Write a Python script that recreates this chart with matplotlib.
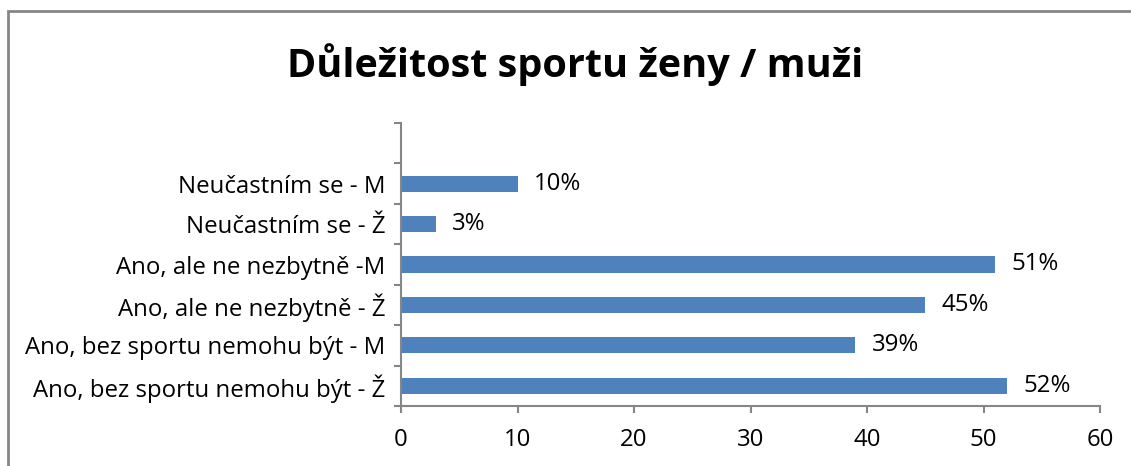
import matplotlib
matplotlib.use("Agg")
import matplotlib.pyplot as plt
from matplotlib.patches import Rectangle

# data (bottom to top, as drawn)
categories = ["Ano, bez sportu nemohu být - Ž", "Ano, bez sportu nemohu být - M",
              "Ano, ale ne nezbytně - Ž", "Ano, ale ne nezbytně -M",
              "Neučastním se - Ž", "Neučastním se - M"]
values = [52, 39, 45, 51, 3, 10]
labels = ["52%", "39%", "45%", "51%", "3%", "10%"]
xticks = [0, 10, 20, 30, 40, 50, 60]

plt.rcParams['font.family'] = ['Open Sans', 'DejaVu Sans']
bar_color = "#4F81BD"
axis_color = "#868686"
fs = 17.3

fig = plt.figure(figsize=(11.31, 4.66), dpi=100)
# outer chart border (runs off the right and bottom edges)
fig.patches.append(Rectangle((8 / 1131, -0.05), 1.2, 1 - 11 / 466 + 0.05,
                             transform=fig.transFigure, fill=False,
                             edgecolor=axis_color, linewidth=2))

ax = fig.add_axes([401 / 1131, 1 - 406 / 466, 699 / 1131, 283 / 466])
y = list(range(len(categories)))
ax.barh(y, values, height=0.4, color=bar_color)
for yi, v, t in zip(y, values, labels):
    ax.text(v + 1.4, yi, t, va="center", ha="left", fontsize=fs)

ax.set_xlim(0, 60)
ax.set_ylim(-0.5, 6.5)
ax.set_xticks(xticks)
ax.set_xticklabels([str(t) for t in xticks], fontsize=fs)
ax.set_yticks(y)
ax.set_yticklabels(categories, fontsize=fs)
ax.set_yticks([i - 0.5 for i in range(8)], minor=True)
ax.tick_params(axis="y", which="major", length=0, pad=11)
ax.tick_params(axis="y", which="minor", length=5, direction="out", color=axis_color, width=1.5)
ax.tick_params(axis="x", length=5, direction="out", color=axis_color, width=1.5, pad=11)
for s in ["top", "right"]:
    ax.spines[s].set_visible(False)
for s in ["left", "bottom"]:
    ax.spines[s].set_color(axis_color)
    ax.spines[s].set_linewidth(1.5)

fig.text(575 / 1131, 1 - 65 / 466, "Důležitost sportu ženy / muži", ha="center", va="center",
         fontsize=28.5, fontweight="bold")

fig.savefig("out.png", dpi=100)
